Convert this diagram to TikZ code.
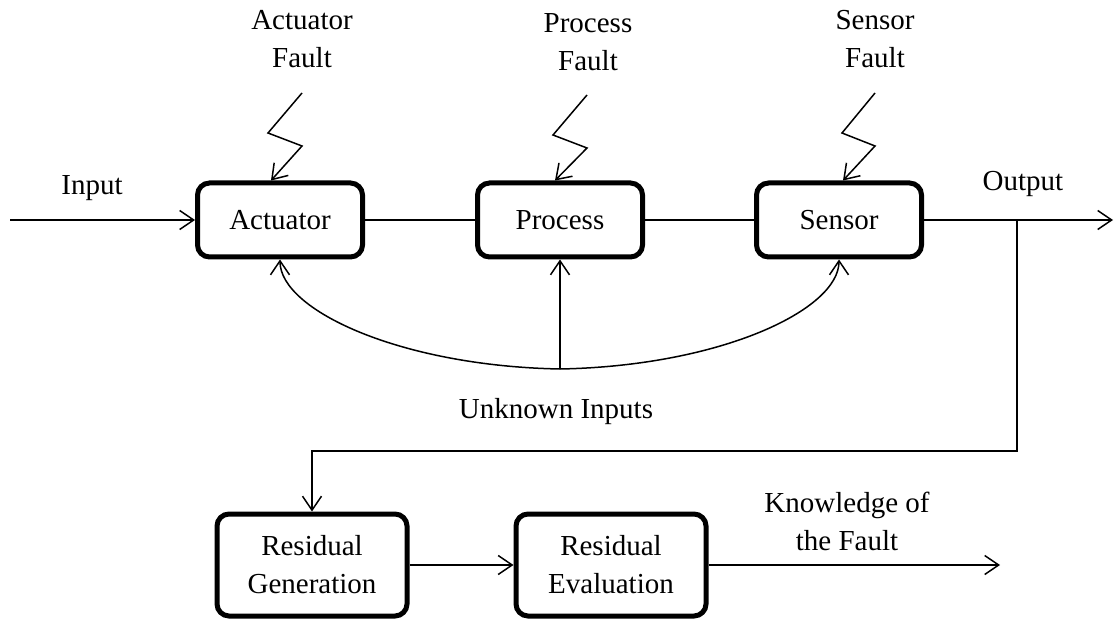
\documentclass[tikz,border=0pt]{standalone}
\usepackage{fontspec}
\setmainfont{Liberation Serif}
\newfontfamily\tnrfont{Liberation Serif}
\usetikzlibrary{arrows.meta}
\begin{document}
\begin{tikzpicture}[x=1pt,y=-1pt,
  every node/.style={font=\tnrfont\fontsize{29}{38}\selectfont},
  blockbox/.style={draw, rectangle, rounded corners=12pt, line width=5pt, align=center, inner sep=0pt},
  smallblock/.style={blockbox, minimum width=165pt, minimum height=74pt},
  bigblock/.style={blockbox, minimum width=190pt, minimum height=102pt},
  conn/.style={line width=1.5pt},
  arr/.style={conn, -{Straight Barb[length=14pt,width=19pt,line width=1.5pt]}},
  lbl/.style={align=center, inner sep=0pt}
]
\useasboundingbox (0,0) rectangle (1116,620);

% blocks
\node[smallblock] (act) at (280,220) {Actuator};
\node[smallblock] (pro) at (560,220) {Process};
\node[smallblock] (sen) at (839,220) {Sensor};
\node[bigblock] (gen) at (312,565) {Residual\\Generation};
\node[bigblock] (eva) at (611,565) {Residual\\Evaluation};

% labels
\node[lbl] (lin) at (92,188) {Input};
\node[lbl] (lout) at (1023,184) {Output};
\node[lbl] (laf) at (302,39) {Actuator\\Fault};
\node[lbl] (lpf) at (588,42) {Process\\Fault};
\node[lbl] (lsf) at (875,39) {Sensor\\Fault};
\node[lbl] (lui) at (556,412) {Unknown Inputs};
\node[lbl] (lkf) at (847,521) {Knowledge of\\the Fault};

% main chain
\coordinate (instart) at (10,220);
\coordinate (outend) at (1113,220);
\coordinate (tap) at (1017,220);
\coordinate (bend) at (312,451);
\draw[arr] (instart) -- (act.west);
\draw[conn] (act.east) -- (pro.west);
\draw[conn] (pro.east) -- (sen.west);
\draw[arr] (sen.east) -- (outend);
\draw[arr] (tap) |- (bend) -- (gen.north);
\draw[arr] (gen.east) -- (eva.west);
\coordinate (kend) at (1000,565);
\draw[arr] (eva.east) -- (kend);

% unknown inputs
\coordinate (ui) at (560,369);
\draw[arr] (ui) .. controls (400,366) and (280,310) .. (act.south);
\draw[arr] (ui) .. controls (720,366) and (839,310) .. (sen.south);
\draw[arr] (ui) -- (pro.south);

% fault bolts
\coordinate (a1) at (302,93);
\coordinate (a2) at (268,133);
\coordinate (a3) at (302,146);
\draw[arr] (a1) -- (a2) -- (a3) -- ([xshift=-9pt]act.north);
\coordinate (p1) at (587,95);
\coordinate (p2) at (553,135);
\coordinate (p3) at (587,148);
\draw[arr] (p1) -- (p2) -- (p3) -- ([xshift=-5pt]pro.north);
\coordinate (s1) at (875,93);
\coordinate (s2) at (842,133);
\coordinate (s3) at (875,146);
\draw[arr] (s1) -- (s2) -- (s3) -- ([xshift=4pt]sen.north);
\end{tikzpicture}
\end{document}
